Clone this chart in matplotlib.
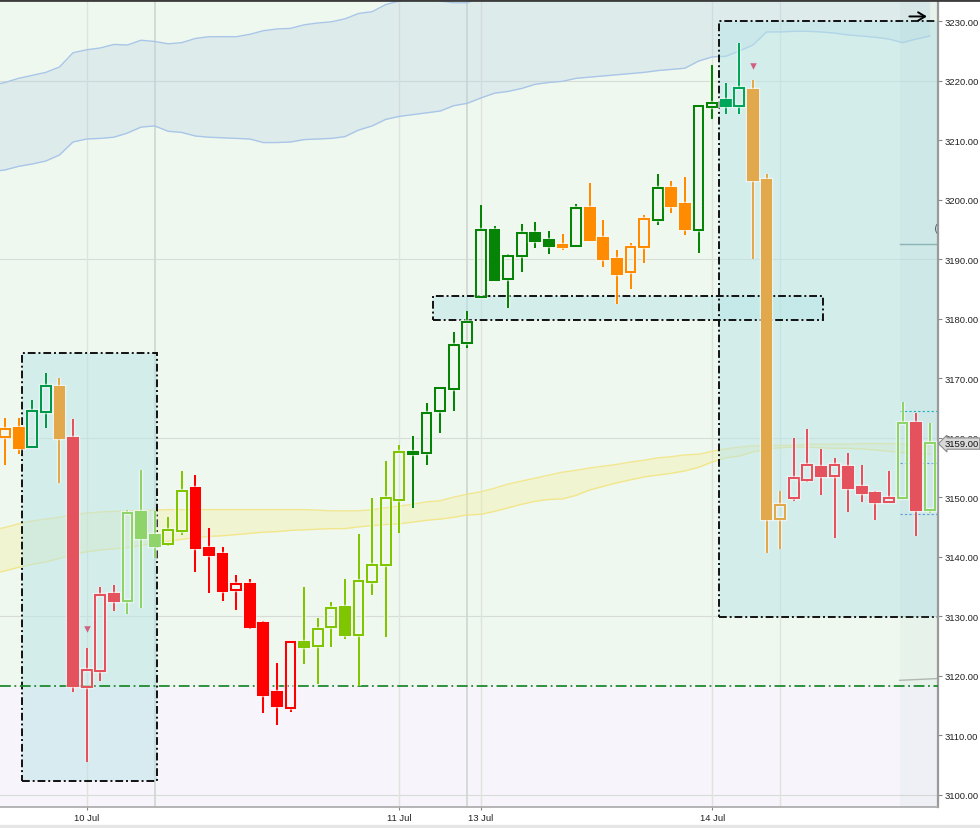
import numpy as np
import matplotlib.pyplot as plt
from matplotlib.patches import Rectangle
from matplotlib.lines import Line2D
import matplotlib.patheffects as pe
import matplotlib.transforms as mtransforms

# candle data, one entry per bar
opens = [3160.1, 3161.7, 3158.5, 3164.3, 3168.5, 3160.0, 3118.1, 3120.8, 3133.7, 3132.6,
         3147.5, 3143.7, 3142.1, 3144.3, 3151.5, 3141.5, 3140.5, 3134.3, 3135.4, 3128.8,
         3117.2, 3114.5, 3125.6, 3125.0, 3128.1, 3131.5, 3126.9, 3135.8, 3138.6, 3149.5,
         3157.3, 3157.4, 3164.4, 3168.2, 3175.9, 3183.6, 3194.9, 3186.6, 3190.6, 3194.4,
         3193.3, 3192.4, 3192.2, 3198.6, 3193.5, 3190.0, 3187.9, 3192.1, 3196.6, 3202.0,
         3199.2, 3194.9, 3215.5, 3216.7, 3215.8, 3218.5, 3203.3, 3146.3, 3149.8, 3152.9,
         3155.1, 3153.6, 3155.1, 3151.7, 3150.7, 3149.2, 3149.8, 3162.4, 3147.8]
highs = [3163.3, 3163.3, 3166.3, 3170.8, 3170.1, 3163.1, 3124.6, 3134.9, 3135.2, 3147.8,
         3154.5, 3147.7, 3146.6, 3154.4, 3153.7, 3144.8, 3141.6, 3136.9, 3136.3, 3129.1,
         3122.1, 3125.8, 3134.9, 3129.6, 3132.4, 3136.3, 3143.8, 3149.8, 3156.1, 3158.7,
         3160.3, 3165.9, 3168.4, 3177.8, 3181.3, 3199.1, 3195.5, 3190.8, 3195.9, 3196.3,
         3194.8, 3194.3, 3199.3, 3202.8, 3196.6, 3191.5, 3192.8, 3197.4, 3204.3, 3203.2,
         3203.8, 3215.8, 3222.6, 3219.6, 3226.4, 3220.1, 3204.3, 3151.1, 3159.9, 3161.4,
         3158.1, 3156.6, 3157.4, 3155.4, 3151.0, 3154.4, 3166.0, 3164.1, 3162.5]
lows = [3155.4, 3157.2, 3158.2, 3161.6, 3152.4, 3117.2, 3105.5, 3119.1, 3130.9, 3130.4,
        3131.4, 3139.8, 3141.8, 3143.7, 3137.4, 3133.9, 3132.6, 3131.1, 3127.9, 3113.7,
        3111.7, 3113.9, 3121.9, 3118.6, 3124.8, 3126.1, 3118.3, 3133.6, 3126.5, 3143.9,
        3148.2, 3155.4, 3160.8, 3164.4, 3175.1, 3183.6, 3186.5, 3181.8, 3187.8, 3191.8,
        3190.8, 3191.5, 3192.1, 3193.3, 3188.6, 3182.4, 3185.0, 3189.4, 3195.8, 3197.7,
        3194.1, 3191.1, 3213.6, 3214.4, 3214.4, 3190.1, 3140.6, 3141.3, 3149.4, 3152.6,
        3150.3, 3143.1, 3147.5, 3149.1, 3146.1, 3149.2, 3149.8, 3143.4, 3147.4]
closes = [3161.4, 3158.2, 3164.5, 3168.7, 3160.0, 3118.3, 3120.9, 3133.6, 3132.6, 3147.4,
          3143.2, 3141.8, 3144.5, 3151.1, 3141.5, 3140.2, 3134.2, 3135.4, 3128.2, 3116.8,
          3114.8, 3125.7, 3124.8, 3127.9, 3131.3, 3126.8, 3135.9, 3138.6, 3149.9, 3157.6,
          3157.5, 3164.1, 3168.4, 3175.6, 3179.5, 3194.9, 3186.5, 3190.6, 3194.4, 3193.1,
          3192.2, 3192.0, 3198.6, 3193.3, 3190.0, 3187.5, 3192.1, 3196.7, 3202.0, 3199.0,
          3195.0, 3215.7, 3216.3, 3215.8, 3218.7, 3203.3, 3146.3, 3148.7, 3153.2, 3155.4,
          3153.5, 3155.4, 3151.5, 3150.7, 3149.2, 3149.9, 3162.4, 3147.8, 3159.1]
# colour code of each bar
bar_kind = (['orange'] * 2 + ['teal'] * 2 + ['gold'] + ['crimson'] * 4 + ['light'] * 3
            + ['yg'] * 2 + ['red'] * 8 + ['yg'] * 8 + ['dark'] * 11 + ['orange'] + ['dark']
            + ['orange'] * 5 + ['dark'] + ['orange'] * 2 + ['dark'] * 2 + ['jade'] * 2
            + ['gold'] * 3 + ['crimson'] * 8 + ['light', 'crimson', 'light'])

# upper envelope (blue) and moving-average ribbon (yellow); first value is the bar before the window
blue_low = [3204.7, 3205.0, 3205.6, 3206.0, 3206.5, 3207.5, 3209.7, 3210.2, 3210.3, 3210.5,
            3211.2, 3212.2, 3212.4, 3211.5, 3211.3, 3210.7, 3210.5, 3210.4, 3210.3, 3210.2,
            3209.6, 3209.6, 3209.7, 3210.1, 3210.2, 3210.3, 3210.6, 3211.7, 3212.4, 3213.5,
            3214.0, 3214.3, 3214.6, 3214.9, 3215.8, 3216.2, 3217.1, 3217.9, 3218.2, 3218.7,
            3219.4, 3219.7, 3219.9, 3220.4, 3220.6, 3220.8, 3221.0, 3221.2, 3221.4, 3221.7,
            3221.9, 3222.1, 3223.3, 3224.0, 3224.1, 3225.0, 3226.0, 3228.2, 3228.2, 3228.3,
            3228.3, 3228.2, 3228.0, 3227.7, 3227.5, 3227.3, 3227.0, 3226.4, 3227.0, 3227.5]
blue_high = [3219.2, 3219.7, 3220.4, 3220.9, 3221.4, 3222.3, 3224.7, 3225.2, 3225.5, 3226.1,
             3226.0, 3226.8, 3226.6, 3226.2, 3226.4, 3227.1, 3227.4, 3227.4, 3227.4, 3227.8,
             3228.4, 3228.7, 3228.8, 3229.4, 3229.7, 3229.9, 3230.4, 3231.3, 3231.6, 3232.8,
             3233.4, 3233.5, 3233.7, 3233.4, 3233.1, 3233.1, 3234.0, 3234.5, 3235.0, 3235.5,
             3236.0, 3236.3, 3236.6, 3237.0, 3237.3, 3237.6, 3238.0, 3238.2, 3238.5, 3238.8,
             3239.0, 3239.3, 3240.0, 3240.5, 3241.0, 3241.5, 3242.0, 3243.0, 3243.0, 3243.0,
             3243.0, 3243.0, 3243.0, 3243.0, 3243.0, 3243.0, 3243.0, 3243.0, 3243.0, 3243.0]
yellow_high = [3144.4, 3144.9, 3145.5, 3146.0, 3146.3, 3146.6, 3147.1, 3147.3, 3147.5, 3147.6,
               3147.7, 3147.8, 3147.8, 3147.9, 3147.9, 3147.9, 3147.9, 3147.9, 3147.9, 3147.9,
               3147.9, 3147.9, 3147.9, 3147.9, 3147.8, 3147.7, 3147.7, 3147.7, 3147.9, 3148.2,
               3148.5, 3148.8, 3149.2, 3149.4, 3150.0, 3150.5, 3150.9, 3151.5, 3152.2, 3152.7,
               3153.2, 3153.7, 3154.2, 3154.5, 3154.9, 3155.2, 3155.5, 3155.9, 3156.2, 3156.6,
               3156.8, 3157.1, 3157.2, 3157.7, 3158.1, 3158.4, 3158.6, 3158.7, 3158.7, 3158.7,
               3158.9, 3158.9, 3158.9, 3158.9, 3159.0, 3159.0, 3159.0, 3158.9, 3158.7, 3158.6]
yellow_low = [3137.1, 3137.6, 3138.2, 3138.7, 3139.1, 3139.7, 3140.4, 3140.8, 3141.1, 3141.3,
              3141.5, 3141.9, 3142.3, 3142.6, 3142.9, 3143.2, 3143.4, 3143.5, 3143.7, 3143.9,
              3144.1, 3144.2, 3144.4, 3144.5, 3144.6, 3144.7, 3144.7, 3145.0, 3145.2, 3145.4,
              3145.5, 3145.8, 3146.1, 3146.3, 3146.6, 3147.0, 3147.1, 3147.6, 3148.2, 3148.8,
              3149.3, 3149.6, 3149.7, 3150.3, 3151.2, 3151.8, 3152.4, 3152.9, 3153.4, 3153.7,
              3154.0, 3154.4, 3155.0, 3155.9, 3156.6, 3156.9, 3157.6, 3158.1, 3158.3, 3158.4,
              3158.4, 3158.3, 3158.2, 3158.2, 3158.1, 3157.9, 3157.7, 3157.5, 3157.4, 3157.2]

# zones: (first bar, last bar, bottom price, top price)
zones = [(1.25, 11.18, 3102.3, 3174.2),
         (31.47, 60.15, 3179.7, 3183.8),
         (52.5, 72.0, 3129.8, 3230.0)]
support_level = 3118.2
date_pos = [6, 29, 35, 52]
date_labels = ['10 Jul', '11 Jul', '13 Jul', '14 Jul']
last_price = 3159.0

palette = {'orange': '#ff8c00', 'teal': '#00994c', 'gold': '#e2a84c', 'crimson': '#e4535d',
           'light': '#8fd46a', 'yg': '#7fc600', 'red': '#ff0000', 'dark': '#068406',
           'jade': '#00a65a'}

fig = plt.figure(figsize=(9.8, 8.29), dpi=100)
ax = fig.add_axes([0.0, 0.0253, 0.957, 0.9723])
ax.set_facecolor('#eff8ef')
idx = np.arange(len(opens))
band_idx = np.arange(len(blue_low)) - 1

ax.axhspan(3090, support_level, color='#f8f4fc', zorder=0)
ax.axhline(support_level, color='#1e8a2e', lw=1.3, ls=(0, (6, 2, 1, 2)), zorder=4)

# gridlines
for p in [3100, 3130, 3160, 3190, 3220]:
    ax.axhline(p, color='#d8dcd8', lw=0.8, zorder=0.5)
for xv in [6, 29, 35, 52, 57]:
    ax.axvline(xv, color='#dde3dd', lw=1.0, zorder=0.5)
for xv in [11, 34]:
    ax.axvline(xv, color='#cfd6cf', lw=1.2, zorder=0.5)

# bands
ax.fill_between(band_idx, blue_low, blue_high, color='#bbd0e3', alpha=0.32, lw=0, zorder=1)
ax.plot(band_idx, blue_low, color='#a9c6e8', lw=1, zorder=1.1)
ax.plot(band_idx, blue_high, color='#a9c6e8', lw=1, zorder=1.1)
ax.fill_between(band_idx, yellow_low, yellow_high, color='#f2ee9a', alpha=0.35, lw=0, zorder=1)
ax.plot(band_idx, yellow_low, color='#f3e37a', lw=1, alpha=0.8, zorder=1.1)
ax.plot(band_idx, yellow_high, color='#f3e37a', lw=1, alpha=0.8, zorder=1.1)

# zone boxes
for x0, x1, p0, p1 in zones:
    ax.add_patch(Rectangle((x0, p0), x1 - x0, p1 - p0, facecolor='#b8e4e8', alpha=0.5,
                           lw=0, zorder=2))
    ax.add_patch(Rectangle((x0, p0), x1 - x0, p1 - p0, fill=False, edgecolor='#111111',
                           lw=1.4, ls=(0, (4, 1.5, 1, 1.5)), zorder=2.1))

# right-hand extras
ax.axvspan(65.8, 69, color='#8fb8b8', alpha=0.08, lw=0, zorder=2.2)
ax.plot([65.8, 68.6], [3192.5, 3192.5], color='#8cb4b4', lw=1, zorder=2.3)
ax.plot([65.8, 68.6], [3119.2, 3119.5], color='#b0b8b0', lw=1, zorder=2.3)
ax.plot([65.8, 68.6], [3164.4, 3164.4], color='#20b0c0', lw=0.8, ls=(0, (2, 2)), zorder=2.3)
ax.plot([65.8, 68.6], [3155.7, 3155.7], color='#5a9ae0', lw=0.8, ls=(0, (2, 2)), zorder=2.3)
ax.plot([65.8, 68.6], [3147.1, 3147.1], color='#5a9ae0', lw=0.8, ls=(0, (2, 2)), zorder=2.3)

# candles
w = 0.72
halo = [pe.withStroke(linewidth=3.2, foreground='white', alpha=0.6)]
for i in idx:
    o, h, l, c = opens[i], highs[i], lows[i], closes[i]
    col = palette[bar_kind[i]]
    top = max(o, c)
    bot = min(o, c)
    filled = c < o
    ax.vlines(i, top, h, color=col, lw=1.5, zorder=5, path_effects=halo)
    ax.vlines(i, l, bot, color=col, lw=1.5, zorder=5, path_effects=halo)
    body = Rectangle((i - w / 2, bot), w, max(top - bot, 0.15),
                     facecolor=col if filled else 'none', edgecolor=col, lw=1.5, zorder=5.5)
    body.set_path_effects(halo)
    ax.add_patch(body)

# signal markers
ax.scatter([6, 55], [3127.8, 3222.5], marker='v', s=22, color='#d2607e', zorder=6, lw=0)

ax.annotate('', xy=(68.0, 3230.8), xytext=(66.3, 3230.8),
            arrowprops=dict(arrowstyle='->,head_length=0.5,head_width=0.3', lw=1.4, color='black'),
            zorder=7)
ax.text(68.65, 3195.4, '(', fontsize=8, ha='right', va='center', color='#506070', zorder=7)

ax.set_xlim(-0.37, 68.6)
ax.set_ylim(3097.9, 3233.4)

ax.yaxis.tick_right()
ax.set_yticks(np.arange(3100, 3231, 10))
ax.set_yticklabels(['%.2f' % v for v in np.arange(3100, 3231, 10)], fontsize=6.8,
                   family='Liberation Sans', color='#222222')
ax.tick_params(axis='y', length=3, width=0.8, color='#888888', pad=1.5)
ax.set_xticks(date_pos)
ax.set_xticklabels(date_labels, fontsize=6.8, family='Liberation Sans', color='#222222')
ax.tick_params(axis='x', length=2, width=0.8, color='#888888', pad=2)

for s in ['top', 'left']:
    ax.spines[s].set_visible(False)
ax.spines['right'].set_color('#9a9a9a')
ax.spines['right'].set_linewidth(1.6)
ax.spines['bottom'].set_color('#a8a8a8')
ax.spines['bottom'].set_linewidth(1.2)

# last price tag on the axis
trans = mtransforms.blended_transform_factory(ax.transAxes, ax.transData)
ax.text(1.007, last_price, '%.2f' % last_price, transform=trans, ha='left', va='center',
        fontsize=6.8, family='Liberation Sans', color='#111111', zorder=10, clip_on=False,
        bbox=dict(boxstyle='larrow,pad=0.12', fc='#d9d9d9', ec='#8a8a8a', lw=0.8))

fig.add_artist(Line2D([0, 1], [0.9985, 0.9985], color='#3c3c3c', lw=2))
fig.add_artist(Rectangle((0, 0), 1, 0.004, color='#e6e6e6', transform=fig.transFigure))

fig.savefig('out.png', dpi=100)
